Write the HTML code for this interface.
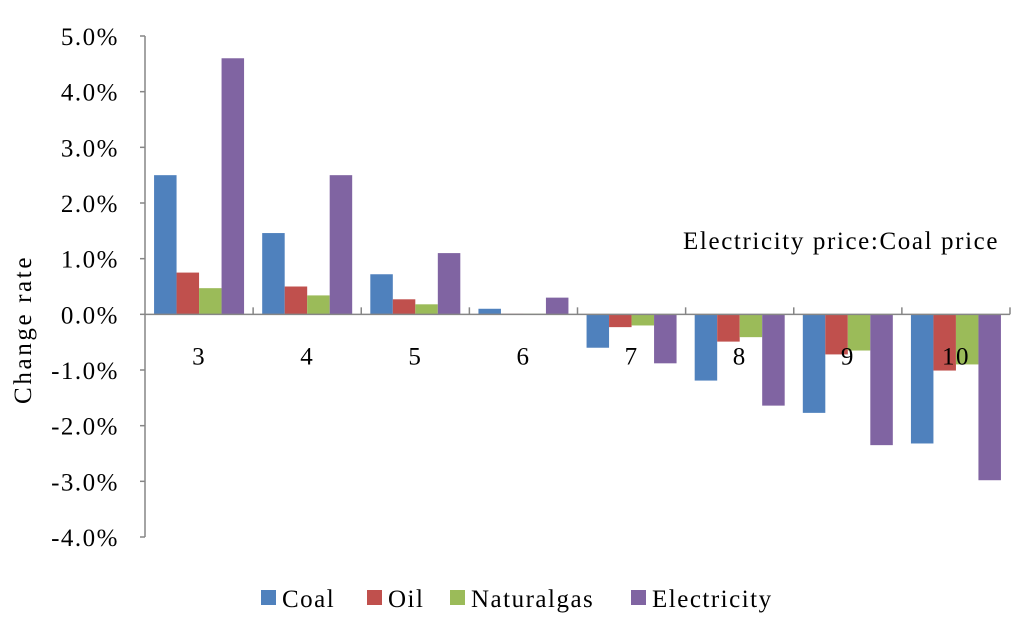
<!DOCTYPE html>
<html><head><meta charset="utf-8"><style>
html,body{margin:0;padding:0;background:#fff;}
svg{display:block;font-family:"Liberation Serif",serif;}
text{letter-spacing:1.5px;}
</style></head><body>
<svg id="chart" width="1024" height="636" viewBox="0 0 1024 636" xmlns="http://www.w3.org/2000/svg"></svg>
<script>
const categories = ["3","4","5","6","7","8","9","10"];
const coal = [2.5, 1.46, 0.72, 0.1, -0.6, -1.19, -1.77, -2.32];
const oil = [0.75, 0.5, 0.27, 0.01, -0.23, -0.49, -0.72, -1.01];
const gas = [0.47, 0.34, 0.18, 0.01, -0.2, -0.41, -0.65, -0.9];
const elec = [4.6, 2.5, 1.1, 0.3, -0.88, -1.64, -2.35, -2.98];
const yTicks = [5,4,3,2,1,0,-1,-2,-3,-4];
const seriesNames = ["Coal","Oil","Naturalgas","Electricity"];
const colors = ["#4F81BD","#C0504D","#9BBB59","#8064A2"];
const series = [coal, oil, gas, elec];

const svg = document.getElementById('chart');
const NS = "http://www.w3.org/2000/svg";
const x0 = 145, x1 = 1010, yTop = 36, yBot = 537, yMax = 5, yMin = -4;
const y = v => yTop + (yMax - v) / (yMax - yMin) * (yBot - yTop);
const gw = (x1 - x0) / categories.length;
const xg = i => x0 + i * gw;
function mk(tag, attrs, parent){ const e = document.createElementNS(NS, tag); for (const k in attrs) e.setAttribute(k, attrs[k]); (parent||svg).appendChild(e); return e; }

const ya = mk('line',{x1:x0,y1:yTop,x2:x0,y2:yBot,stroke:'#868686','stroke-width':1.5});


yTicks.forEach(t=>{
  const tk = mk('line',{x1:x0-5,y1:y(t),x2:x0,y2:y(t),stroke:'#868686','stroke-width':1.5});
  
  
  const lb = mk('text',{x:119,y:y(t)+9,'text-anchor':'end','font-size':25});
  lb.textContent = t.toFixed(1)+'%';
  
  
});
const bw = 22.5, pad = (gw - 4*bw)/2;
series.forEach((s,si)=>{
  s.forEach((v,i)=>{
    const yy = y(Math.max(v,0)), h = Math.abs(y(v)-y(0));
    const r = mk('rect',{x:xg(i)+pad+si*bw,y:yy,width:bw,height:h,fill:colors[si]});
    
    
  });
});
const xa = mk('line',{x1:x0,y1:y(0),x2:x1,y2:y(0),stroke:'#868686','stroke-width':1.5});


categories.forEach((c,i)=>{
  const tk = mk('line',{x1:xg(i+1),y1:y(0)-7,x2:xg(i+1),y2:y(0),stroke:'#868686','stroke-width':1.5});
  
  
  const lb = mk('text',{x:xg(i)+gw/2,y:y(0)+50,'text-anchor':'middle','font-size':25});
  lb.textContent = c;
  
  
});
const yt = mk('text',{x:0,y:0,'text-anchor':'middle','font-size':25,textLength:148,lengthAdjust:'spacing',transform:'translate(31,330) rotate(-90)'});
yt.textContent = 'Change rate';


const an = mk('text',{x:683,y:249,'font-size':25,textLength:316,lengthAdjust:'spacing'});
an.textContent = 'Electricity price:Coal price';


const lx = [261, 367, 450, 631];
seriesNames.forEach((n,i)=>{
  const g = mk('g',{});
  
  
  mk('rect',{x:lx[i],y:590,width:15,height:15,fill:colors[i]},g);
  const t = mk('text',{x:lx[i]+21,y:607,'font-size':25},g);
  t.textContent = n;
});
</script>
</body></html>
